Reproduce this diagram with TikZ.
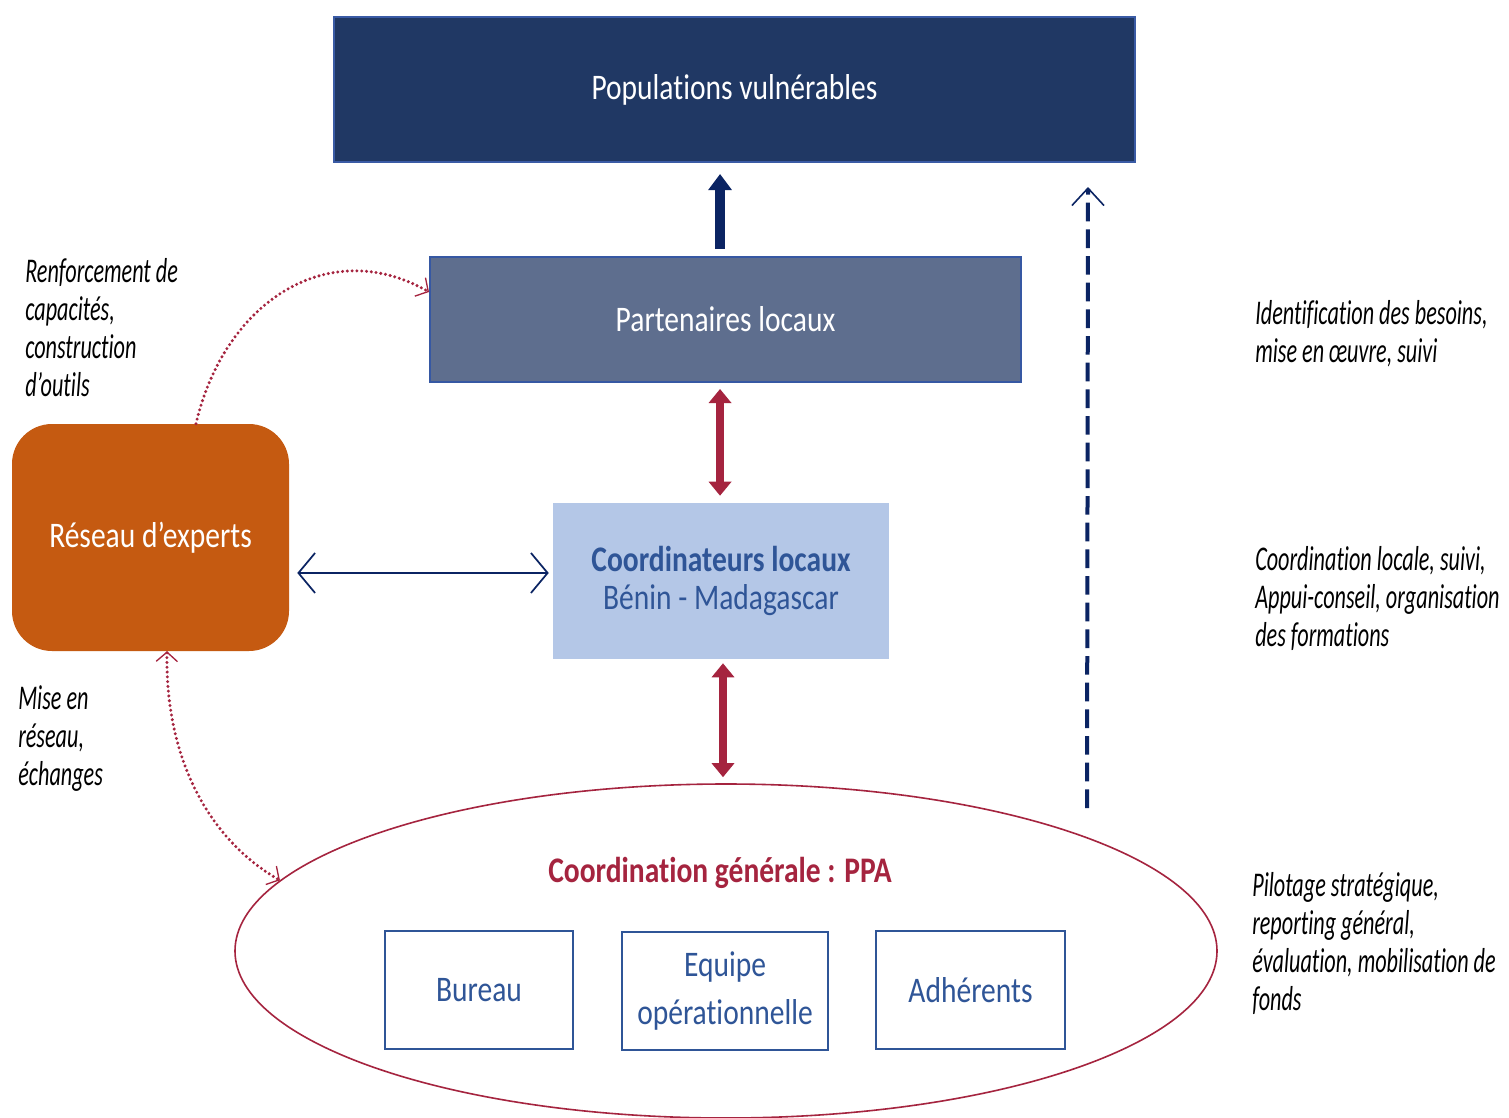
\documentclass[tikz,border=0pt]{standalone}
\usepackage{fontspec}
\setmainfont{Carlito}[FakeStretch=0.82, Ligatures=CommonOff]
\newfontfamily\labfont{Carlito}[FakeStretch=0.64, Ligatures=CommonOff]
\usetikzlibrary{arrows.meta,shapes.geometric}
\definecolor{popfill}{HTML}{203864}
\definecolor{popedge}{HTML}{3A5BA5}
\definecolor{arrnavy}{HTML}{0B2463}
\definecolor{parfill}{HTML}{5E6E8E}
\definecolor{paredge}{HTML}{3658A3}
\definecolor{coofill}{HTML}{B4C7E7}
\definecolor{cootext}{HTML}{2F5597}
\definecolor{orng}{HTML}{C55A11}
\definecolor{crim}{HTML}{A5243F}
\begin{document}
\begin{tikzpicture}[x=0.75pt,y=-0.75pt,
  boxtext/.style={font=\fontsize{27pt}{28.5pt}\selectfont},
  box/.style={boxtext, inner sep=0pt, align=center},
  smallbox/.style={box, draw=cootext, line width=1.4pt, text=cootext, minimum height=88.5pt},
  lab/.style={font=\labfont\itshape\fontsize{26pt}{28.3pt}\selectfont, align=left, inner sep=0pt, text=black},
  navyarrow/.style={draw=arrnavy, line width=7.5pt, -{Triangle[width=17pt,length=12pt]}},
  crimarrow/.style={draw=crim, line width=6pt, {Triangle[width=16.5pt,length=10.5pt]}-{Triangle[width=16.5pt,length=10.5pt]}},
  dotcurve/.style={draw=crim, line width=2.5pt, line cap=round, dash pattern=on 0pt off 3.6pt},
  barb/.tip={Straight Barb[length=7pt,width=16pt,line width=1pt]}
]
\useasboundingbox (0,0) rectangle (1509,1117);
\fill[white] (0,0) rectangle (1509,1117);

% main boxes
\node[box, fill=popfill, draw=popedge, line width=1.5pt, minimum width=600.75pt, minimum height=108.75pt, text=white] (pop) at (734.5,89.5) {Populations vulnérables};
\node[box, fill=parfill, draw=paredge, line width=1.5pt, minimum width=443.25pt, minimum height=93.75pt, text=white] (par) at (725.5,319.5) {Partenaires locaux};
\node[box, fill=coofill, minimum width=252pt, minimum height=117pt, text=cootext] (coo) at (721,581) {\textbf{Coordinateurs locaux}\\Bénin - Madagascar};
\node[box, fill=orng, rounded corners=30pt, minimum width=207.75pt, minimum height=170.25pt, text=white] (res) at (150.5,537.5) {Réseau d’experts};

% ellipse
\node[ellipse, draw=crim, line width=1.2pt, minimum width=736.5pt, minimum height=250.5pt, inner sep=0pt] (ell) at (726,951) {};
\node[box, text=crim, font=\bfseries\fontsize{27pt}{28.5pt}\selectfont] (ttl) at (720,873) {Coordination générale : PPA};
\node[smallbox, minimum width=141pt] (bur) at (479,990) {Bureau};
\node[smallbox, minimum width=154.5pt, font=\fontsize{27pt}{36pt}\selectfont] (equ) at (725,991) {Equipe\\opérationnelle};
\node[smallbox, minimum width=141.75pt] (adh) at (970.5,990) {Adhérents};

% arrows
\path ([xshift=-4.1pt]par.north) coordinate (a1);
\draw[navyarrow, shorten <=5.25pt, shorten >=8.25pt] (a1) -- (a1 |- pop.south);
\path ([xshift=-4.1pt]par.south) coordinate (a2);
\draw[crimarrow, shorten <=4.5pt, shorten >=5.25pt] (a2) -- (a2 |- coo.north);
\path ([xshift=1.5pt]coo.south) coordinate (a3);
\draw[crimarrow, shorten <=3pt, shorten >=4.5pt] (a3) -- (a3 |- ell.north);
\path ([yshift=-26.6pt]res.east) coordinate (a4);
\draw[draw=arrnavy, line width=1.5pt, {Straight Barb[length=12.5pt,width=30pt,line width=1.3pt]}-{Straight Barb[length=12.5pt,width=30pt,line width=1.3pt]}, shorten <=6pt, shorten >=3pt] (a4) -- (coo.west |- a4);

\coordinate (dbot) at (1087,808);
\coordinate (dtop) at (1088,187);
\draw[draw=arrnavy, line width=3pt, dash pattern=on 14pt off 6pt, -{Straight Barb[length=13pt,width=24pt,line width=1.2pt]}] (dbot) -- (dtop);

\draw[dotcurve, -barb] ([xshift=34.1pt]res.north) .. controls (225,300) and (330,235) .. ([yshift=-27pt]par.north west);
\draw[dotcurve, barb-barb] ([xshift=12.4pt]res.south) .. controls (165,760) and (210,840) .. (ell.171);

% labels (base = baseline of last line)
\node[lab, anchor=base west] (l1) at (25,396) {Renforcement de\\capacités,\\construction\\d’outils};
\node[lab, anchor=base west] (l2) at (18,785) {Mise en\\réseau,\\échanges};
\node[lab, anchor=base west] (l3) at (1255,362) {Identification des besoins,\\mise en œuvre, suivi};
\node[lab, anchor=base west] (l4) at (1255,646) {Coordination locale, suivi,\\Appui-conseil, organisation\\des formations};
\node[lab, anchor=base west] (l5) at (1252,1010) {Pilotage stratégique,\\reporting général,\\évaluation, mobilisation de\\fonds};
\end{tikzpicture}
\end{document}
